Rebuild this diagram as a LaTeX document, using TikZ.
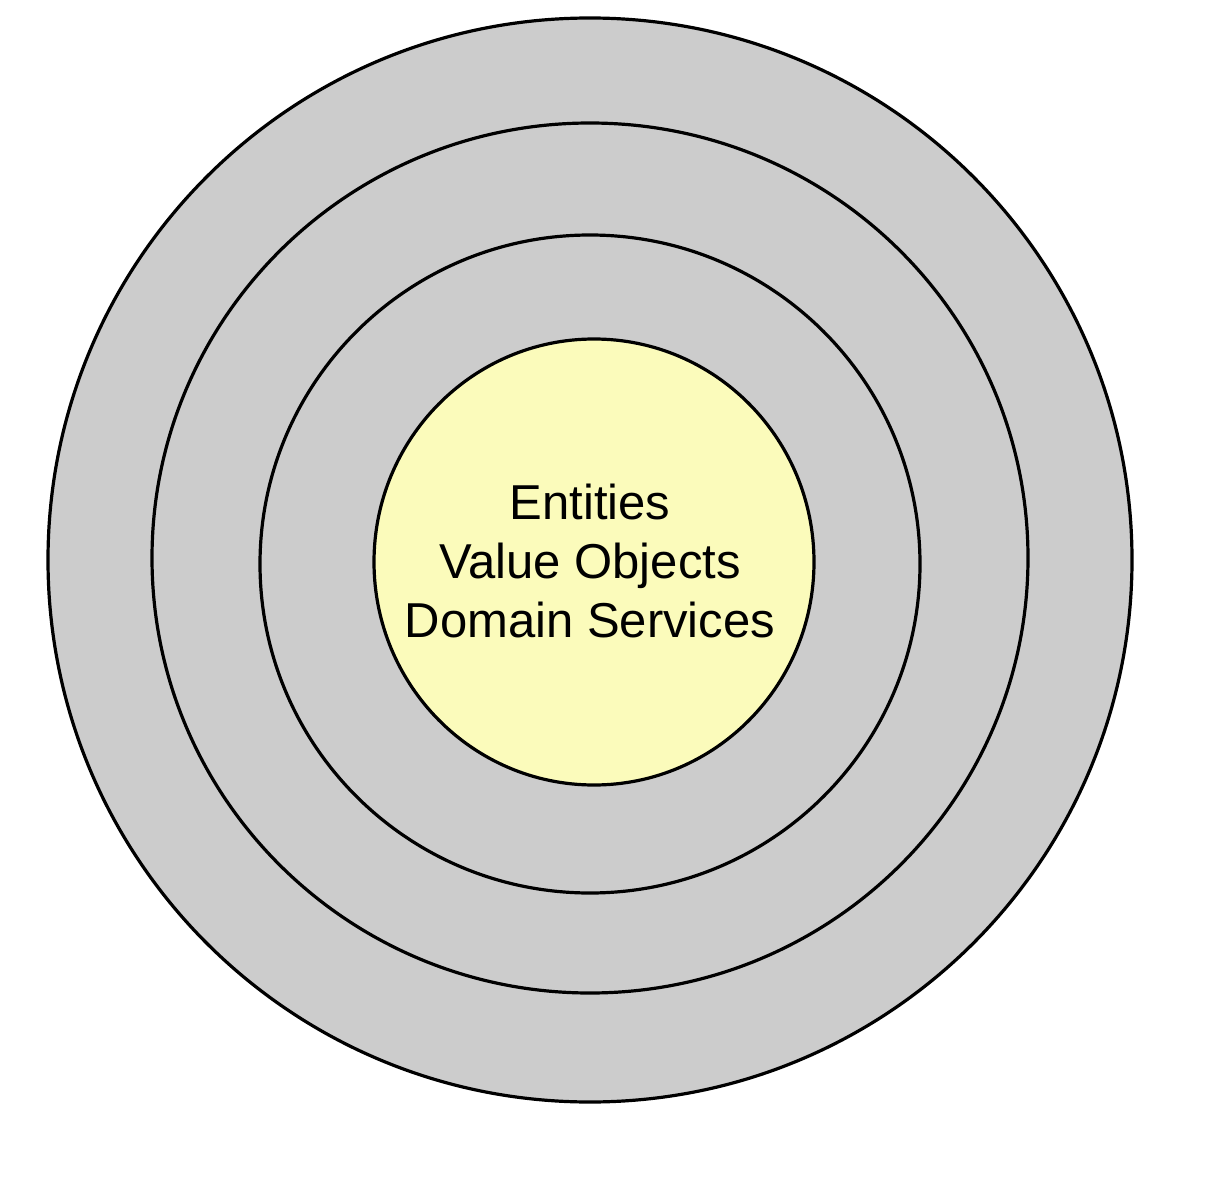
\documentclass[tikz,border=0pt]{standalone}
\usepackage{fontspec}
\setmainfont{Liberation Sans}
\usetikzlibrary{shapes.geometric}
\definecolor{ringgray}{HTML}{CCCCCC}
\definecolor{coreyellow}{HTML}{FBFBBB}
\begin{document}
\begin{tikzpicture}[x=1pt,y=-1pt,
  ring/.style={ellipse, draw=black, line width=3.2pt, fill=ringgray, inner sep=0pt, outer sep=0pt},
  core/.style={ellipse, draw=black, line width=3.2pt, fill=coreyellow, inner sep=0pt, outer sep=0pt}]
\useasboundingbox (0,0) rectangle (1218,1190);
\fill[white] (0,0) rectangle (1218,1190);
\node[ring, minimum width=1084pt, minimum height=1084pt] (r1) at (590,560) {};
\node[ring, minimum width=876pt, minimum height=870pt] (r2) at (590,558) {};
\node[ring, minimum width=660pt, minimum height=658pt] (r3) at (590,564) {};
\node[core, minimum width=440pt, minimum height=446pt] (r4) at (594,562) {};
\node[align=center, font=\fontsize{49}{59}\selectfont, inner sep=0pt] (txt) at (590,561) {Entities\\Value Objects\\Domain Services};
\end{tikzpicture}
\end{document}
